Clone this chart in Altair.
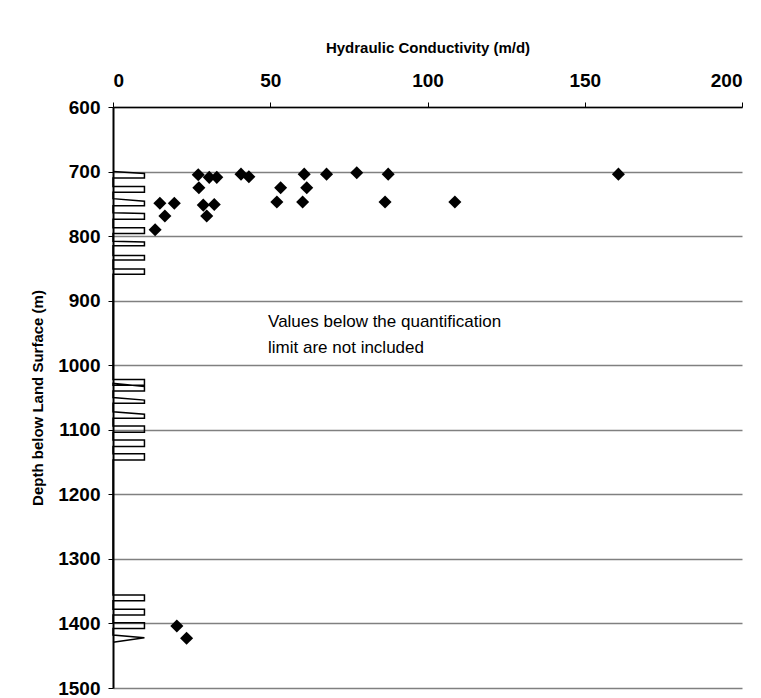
import altair as alt
import pandas as pd

# Measured hydraulic conductivity (m/d) and depth (m)
k_values = [27.1, 30.6, 33.0, 40.7, 43.2, 27.3, 28.7, 32.2, 29.8, 53.3, 52.1,
            60.8, 61.6, 60.3, 67.9, 77.5, 87.5, 86.5, 108.7, 160.7,
            14.9, 19.5, 16.5, 13.4, 20.3, 23.4]
depths = [705, 709, 709, 704, 708, 725, 752, 751, 769, 725, 747,
          704, 725, 747, 704, 702, 704, 747, 747, 704,
          749, 749, 769, 790, 1404, 1423]

# Screened intervals: (depth at axis, depth at right end, bottom depth)
screen_top = [700, 723, 742, 764, 787, 808, 830, 851,
              1022, 1028, 1050, 1072, 1094, 1116, 1137,
              1356, 1378, 1399]
screen_right = [703, 723, 746, 765, 787, 809, 830, 851,
                1022, 1033, 1054, 1076, 1094, 1116, 1137,
                1356, 1378, 1399]
screen_bottom = [710, 732, 753, 774, 796, 815, 837, 859,
                 1031, 1040, 1059, 1082, 1104, 1126, 1147,
                 1365, 1387, 1408]
# last sloped screen marker
tri_depths = [1418, 1422, 1429]
screen_width = 10

note_lines = ["Values below the quantification", "limit are not included"]
note_x = [49.3, 49.3]
note_y = [933, 973]

pts = pd.DataFrame({"k": k_values, "depth": depths})

rows = []
o = 0
for a, r, b in zip(screen_top, screen_right, screen_bottom):
    for xx, dd in [(0, a), (screen_width, r), (screen_width, b), (0, b)]:
        rows.append({"x": xx, "depth": dd, "o": o}); o += 1
for xx, dd in zip([0, screen_width, 0], tri_depths):
    rows.append({"x": xx, "depth": dd, "o": o}); o += 1
screens = pd.DataFrame(rows)

notes = pd.DataFrame({"x": note_x, "y": note_y, "t": note_lines})

FONT = "Liberation Sans"

xscale = alt.Scale(domain=[0, 200], nice=False, zero=False)
yscale = alt.Scale(domain=[600, 1500], reverse=True, nice=False, zero=False)

xaxis = alt.Axis(orient="top", title="Hydraulic Conductivity (m/d)", values=[0, 50, 100, 150, 200],
                 format="d", grid=False, domainColor="black", domainWidth=1.5,
                 tickColor="black", tickSize=5,
                 labelFont=FONT, labelFontSize=19, labelFontWeight="bold", labelColor="black",
                 labelPadding=12, titleFont=FONT, titleFontSize=15, titleFontWeight="bold",
                 titleColor="black", titlePadding=16)
yaxis = alt.Axis(title="Depth below Land Surface (m)", values=list(range(600, 1501, 100)),
                 format="d", grid=True, gridColor="#808080", gridWidth=1.3,
                 domainColor="black", domainWidth=2, tickColor="black", tickSize=5,
                 labelFont=FONT, labelFontSize=19, labelFontWeight="bold", labelColor="black",
                 labelPadding=8, titleFont=FONT, titleFontSize=15, titleFontWeight="bold",
                 titleColor="black", titlePadding=12)

points = alt.Chart(pts).mark_point(shape="diamond", filled=True, color="black", opacity=1, size=170).encode(
    x=alt.X("k:Q", scale=xscale, axis=xaxis),
    y=alt.Y("depth:Q", scale=yscale, axis=yaxis),
)

lines = alt.Chart(screens).mark_line(color="black", strokeWidth=1.5).encode(
    x=alt.X("x:Q", scale=xscale),
    y=alt.Y("depth:Q", scale=yscale),
    order="o:Q",
)

text = alt.Chart(notes).mark_text(align="left", baseline="middle", font=FONT, fontSize=17, color="black").encode(
    x=alt.X("x:Q", scale=xscale),
    y=alt.Y("y:Q", scale=yscale),
    text="t:N",
)

chart = alt.layer(lines, points, text).properties(
    width=629, height=581,
    padding={"left": 113, "top": 107, "right": 19, "bottom": 10},
    autosize=alt.AutoSizeParams(type="none"),
    background="white",
).configure_view(strokeWidth=0)

chart.save("out.html", embed_options={"renderer": "svg", "actions": False})
